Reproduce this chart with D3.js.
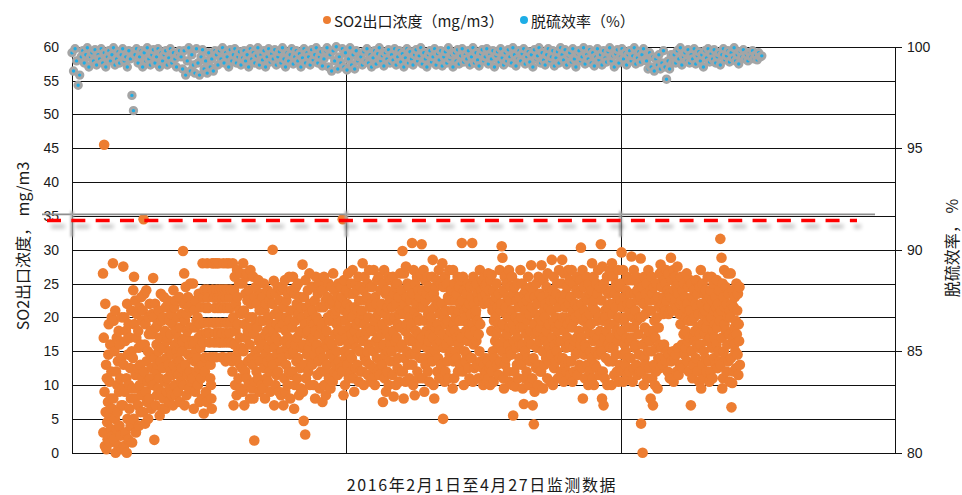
<!DOCTYPE html>
<html>
<head>
<meta charset="utf-8">
<script src="https://cdn.jsdelivr.net/npm/d3@7"></script>
<style>
  body { margin: 0; background: #fff; }
  text { font-family: "Noto Sans CJK SC", "Liberation Sans", sans-serif; fill: #1a1a1a; }
  .tick text { font-family: "Liberation Sans", sans-serif; font-size: 14px; fill: #1a1a1a; }
</style>
</head>
<body>
<script>
// SO2 outlet concentration (mg/m3) left to right
var so2Values = [
  26.5, 3, 17, 45.5, 9, 1, 22, 6, 13, 0.5, 11, 4.5, 2, 7.5, 14.5, 19, 5.5, 10.5, 1.5, 16, 8, 3.5, 12, 20, 6.5, 2.5,
  28, 8, 19.5, 2, 15, 5, 21, 0, 12, 3.5, 17, 10, 6, 13.5, 1, 18, 9, 4, 16, 11, 2.5, 14, 7, 20, 0.5, 9.5,
  7, 27.5, 13, 1, 20, 9, 16.5, 3, 18, 11, 0, 22, 5, 14.5, 2, 19, 10, 6.5, 17, 12.5, 4, 8, 21, 15, 1.5, 9.5,
  14, 24, 5, 26, 19, 8, 22.5, 11.5, 3, 17, 20.5, 9.5, 12.5, 7, 18, 15.5, 4, 21.5, 10, 13, 6, 16, 23, 8.5, 19.5, 11,
  21, 6, 34.5, 12, 23.5, 16, 4.3, 19, 9, 24, 13.5, 7.5, 10.5, 15, 5, 20, 17.5, 8, 22, 11, 14.5, 18, 6.5, 12.5, 20.5, 10,
  17.5, 25.8, 10, 20, 1.9, 14, 22, 7, 18.5, 12, 16, 8.5, 13, 19, 9.5, 15, 21, 11, 5.5, 17, 13.5, 23.5, 9, 19.5, 15.5, 6.5,
  12.5, 20, 8, 23, 15.5, 10.5, 18, 6.5, 21.5, 14, 16.5, 9, 11, 17, 22.5, 13, 7.5, 19.5, 15, 9.5, 12, 17.5, 20.5, 14.5, 8.5, 11.5,
  19, 7, 24, 13, 21.5, 10, 16, 22.5, 8.5, 18, 12, 15, 14, 20, 9, 17, 11.5, 23, 13.5, 7.5, 18.5, 15.5, 10.5, 20.5, 12.5, 16.5,
  15, 29.8, 10, 22, 26.5, 7, 19.5, 13, 24.5, 17, 8.5, 20.5, 18, 11.5, 23, 14.5, 21.5, 9.5, 16, 12, 25, 18.5, 10.5, 14, 22, 16.5,
  11, 25, 16, 6.5, 21, 13.5, 18.5, 9, 22.5, 15, 19.5, 12, 14, 20, 10, 17, 23.5, 12.5, 7.5, 19, 15.5, 21.5, 11, 17.5, 8, 13,
  28, 16.3, 22.9, 5.8, 19.2, 24.1, 12, 14.1, 21.4, 9, 17.7, 7.5, 28, 24.1, 22.9, 21.4, 19.2, 17.7, 16.3, 14.1, 11, 13, 10, 8, 6.5, 28,
  24.1, 14.1, 28, 19.2, 22.9, 16.3, 21.4, 17.7, 28, 14.1, 24.1, 19.2, 28, 22.9, 21.4, 17.7, 16.3, 28, 24.1, 22.9, 19.2, 21.4, 16.3, 17.7, 14.1, 24.1,
  17.7, 22.9, 28, 14.1, 21.4, 16.3, 24.1, 19.2, 13.5, 22.9, 17.7, 28, 24.1, 21.4, 19.2, 16.3, 14.1, 28, 22.9, 17.7, 21.4, 24.1, 19.2, 16.3, 14.1, 13.5,
  12, 28, 20, 7, 24, 16, 26, 10, 18, 22, 14, 8.5, 27, 23, 19, 15, 11, 25, 21, 17, 13, 9.5, 26.5, 20.5, 15.5, 12.5,
  25, 9, 28, 15, 21, 7, 19, 12, 23.5, 17, 26, 11, 26.5, 22.5, 18, 13.5, 10, 24, 20, 16, 8, 27, 22, 14, 18.5, 9.5,
  20, 13, 26, 8, 17.5, 1.8, 23, 10.5, 15, 24.5, 19, 12, 22, 18.5, 14, 11, 25.5, 16.5, 9, 21, 13.5, 19.5, 23.5, 15.5, 10, 17,
  16, 23, 9.5, 19.5, 25, 12.5, 21, 8, 14.5, 17.5, 22, 11, 18, 13.5, 24, 10.5, 20, 15.5, 22.5, 12, 17, 9, 19, 14, 23.5, 16.5,
  22, 30, 13, 18, 25.4, 7, 15.5, 20.5, 10, 23.5, 17, 11.5, 19, 14.5, 24.5, 12, 21, 16.5, 9, 22.5, 18.5, 13.5, 20, 8.5, 24, 15,
  14, 24.5, 19, 7, 21.5, 11, 16.5, 25.5, 9, 18, 13, 22.5, 20, 15.5, 10, 23.5, 17, 12, 26, 19.5, 14.5, 8, 21, 16, 24, 11.5,
  18.5, 12, 26, 15, 21, 6.5, 23.5, 10, 19.5, 16, 24.5, 13.5, 22, 17, 11, 25, 14, 20.5, 8.5, 17.5, 23, 12.5, 18, 9.5, 21.5, 15.5,
  20, 27.8, 9, 16, 4.7, 23, 13, 19, 2.7, 25.5, 11, 17.5, 21.5, 14.5, 18, 24, 12, 20.5, 15.5, 26.5, 10, 22, 16.5, 13.5, 19.5, 24.5,
  13, 21, 17, 24.5, 10, 19, 14.5, 22.5, 8, 18, 26, 15.5, 20, 16, 11.5, 23.5, 19.5, 13.5, 25, 17.5, 9.5, 21.5, 15, 12, 24, 18.5,
  19, 7.5, 24, 14, 21.5, 26, 10, 17, 12, 22.5, 8.5, 16, 18, 13, 23, 20, 15.5, 25, 11, 19.5, 16.5, 22, 9.5, 14.5, 24.5, 20.5,
  16, 22.5, 10.5, 26.5, 14, 19.5, 12, 24, 17.5, 20.5, 13, 21, 19, 15, 23, 11.5, 18, 25, 13.5, 21.5, 16.5, 22, 12.5, 17, 24.5, 19.5,
  23, 12, 34.5, 18, 8.5, 25.5, 15, 21, 10, 19.5, 14, 24, 17, 22, 13, 20.5, 26.5, 16, 11, 23.5, 18.5, 14.5, 21.5, 12, 25, 17.5,
  14, 20, 27, 11, 23.5, 16.5, 9, 21.5, 18, 12.5, 25, 15.5, 19, 24, 13, 21, 17, 26, 10.5, 22.5, 15, 19.5, 12, 24.5, 17.5, 20.5,
  21, 12, 28, 16.5, 24, 10, 19, 26, 14, 22.5, 17.5, 13.5, 18, 23, 15, 25, 11.5, 20, 16, 27, 13, 21.5, 18.5, 24.5, 10.5, 22,
  18, 24.5, 11, 21.5, 15, 27, 12.5, 19.5, 10, 23, 16.5, 20, 22, 14, 25.5, 17, 12, 20.5, 26, 15.5, 11.5, 18.5, 24, 13.5, 21, 17.5,
  22, 13, 19, 7.5, 25, 16, 27, 11, 20.5, 14.5, 23.5, 9, 18, 24, 12, 21.5, 15, 26, 10, 19.5, 17, 22.5, 13.5, 25.5, 16, 20,
  15, 21.5, 11.5, 26, 18, 8.3, 23.5, 13.5, 20, 16.5, 24.5, 10, 22, 17, 25, 12.5, 19, 14, 23, 10.5, 20.5, 15.5, 26.5, 18.5, 12, 21,
  24, 16, 29.8, 12, 20.5, 8, 26.5, 14, 22, 18, 10.5, 27.5, 19, 23, 15, 25, 13, 21, 17, 24.5, 11, 20, 16.5, 22.5, 14.5, 18.5,
  19, 31, 13, 23.5, 10, 27, 16.5, 21, 8.5, 25, 14.5, 18, 22, 15.5, 26, 12, 20, 17.5, 24, 11, 19.5, 23, 14, 26.5, 16, 21.5,
  30.8, 17, 24, 11, 21.5, 27, 14, 9, 19.5, 25.5, 13, 22.5, 18, 23.5, 15.5, 26, 12, 20.5, 16.5, 24.5, 10.5, 21, 17.5, 14.5, 23, 19,
  20, 26, 13.5, 28.5, 17, 10, 23.5, 8, 21.5, 15, 24.5, 18.5, 22.5, 16, 25.5, 12, 19, 14, 22, 27, 11, 18, 20.5, 16.5, 25, 13,
  13, 22, 28, 17.5, 5, 24.5, 15.5, 20, 10.5, 26, 12, 19, 21, 16, 25, 13.5, 19.5, 23, 11, 17, 27, 14.5, 22.5, 18, 24, 15,
  24, 16.5, 21, 9.5, 27, 13.5, 19, 11, 25, 18, 22.5, 15, 20, 14, 23.5, 17, 26, 12, 21, 16, 24.5, 19.5, 13, 22, 17.5, 25.5,
  17, 31, 22.5, 12, 26, 19.5, 10, 24, 15, 21, 13.5, 20, 18, 23.5, 14.5, 21.5, 16.5, 25, 12.5, 19, 22, 11, 17.5, 24.5, 14, 20.5,
  23, 14, 31, 19, 10.5, 26, 16, 22, 12.5, 24.5, 18, 20.5, 21, 16.5, 25, 13, 19.5, 23.5, 11, 17.5, 22.5, 15, 27, 19, 13.5, 24,
  24, 11, 25.5, 12.5, 23, 10, 22, 13, 26, 11.5, 24.5, 14, 23.5, 12, 25, 10.5, 22.5, 13.5, 26.5, 11, 24, 12.5, 22, 10, 25.5, 13,
  18, 26.3, 12, 21, 15, 24, 10.5, 19.5, 14, 22.5, 16.5, 20, 23, 17.5, 25, 13, 21.5, 15.5, 19, 11.5, 23.5, 16, 27, 13.5, 18.5, 21,
  22, 30.5, 15, 28.8, 19, 11, 24, 9.5, 17, 26, 13, 20.5, 21.5, 14, 25, 17.5, 23, 12, 20, 16, 27, 18.5, 10.5, 22.5, 15, 24.5,
  14.5, 21, 26, 10, 19, 5.5, 23.5, 16.5, 12, 24.5, 18, 9.8, 20, 15.5, 22.5, 13, 25, 17, 11, 21.5, 19.5, 14, 23, 16, 27, 18.5,
  20, 13, 25, 16, 9.5, 22, 18.5, 7.2, 23.5, 11, 15, 21, 24, 17.5, 12, 22.5, 14, 19.5, 26, 16.5, 10, 20.5, 23, 13.5, 18, 24.5,
  27.7, 16, 21.5, 11, 7, 24, 14, 4.2, 19, 9, 23, 17.5, 20.5, 12.5, 25, 15.5, 22, 18, 10, 26, 13, 20, 16.5, 23.5, 12, 18.5,
  12, 27.7, 19.5, 23, 15, 9.5, 25.5, 17, 21, 13, 20, 16.5, 22, 14, 24.5, 18, 11, 26.5, 16, 21.5, 13.5, 19, 23.5, 15.5, 10.5, 22.5,
  21, 14.5, 28.5, 17, 24, 10, 19.5, 26, 12.5, 22.5, 16, 18.5, 20, 13.5, 23.5, 15, 25, 18, 11, 21.5, 16.5, 27, 14, 19, 23, 12,
  16.5, 25, 11, 28.5, 20, 14, 22.5, 10.5, 26.5, 18, 13, 21.5, 23.5, 15.5, 20, 12, 24.5, 17, 19, 27, 13.5, 22, 16, 25.5, 11.5, 19.5,
  23, 13.5, 27, 18.5, 10.5, 21, 15.5, 25, 12, 19.5, 16.5, 22, 20, 14.5, 24, 17, 26, 11.5, 21.5, 15, 23.5, 18, 13, 20.5, 25.5, 16,
  30.3, 17, 22, 12.5, 27, 8, 19.5, 24.5, 14.5, 21, 11, 16, 23, 15.5, 20, 26, 13, 18.5, 22.5, 10, 25, 17.5, 12, 20.5, 15, 23.5,
  19, 24, 14, 28, 11, 21.5, 16.5, 26, 10, 22.5, 17.5, 13, 21, 15, 25, 12.5, 19.5, 23.5, 17, 27, 14.5, 20, 11.5, 24.5, 18, 16,
  30.8, 15, 22.5, 8, 27.5, 12, 19.5, 7, 25, 17, 11, 21, 20, 14, 24, 18, 26, 10, 21.5, 16, 23.5, 13.5, 19, 27, 15.5, 22,
  17, 24, 10, 28, 20.5, 13.5, 26, 15.5, 22, 11.5, 19, 23.5, 21.5, 14.5, 25, 18, 12, 23, 16.5, 27, 10.5, 20, 17.5, 24.5, 13, 22.5,
  25, 12, 29.6, 18, 21.5, 14.5, 27, 10.5, 19.5, 23, 16, 13, 20, 15, 24, 17, 26, 11.5, 22, 14, 25.5, 18.5, 12, 21, 16.5, 23.5,
  14, 22, 29, 17, 25.5, 10.5, 20, 12.5, 27, 18.5, 23.5, 15.5, 21, 16, 26, 13, 19.5, 24, 11.5, 22.5, 17.5, 25, 14.5, 20, 12, 23,
  28.7, 4.3, 20, 12, 24.5, 0, 16, 22, 10, 26, 14, 18.5, 20.5, 13, 23.5, 17, 25, 11, 21, 15, 27, 18, 12.5, 22.5, 16.5, 24,
  8, 21, 15, 26, 11, 23.5, 7, 18, 24.5, 13, 19.5, 10, 17, 22.5, 12, 25, 15.5, 20, 9.5, 23, 14, 18.5, 21.5, 16, 26.5, 12.5,
  27.8, 14, 24.5, 15.5, 22, 26, 13, 20.5, 23, 16, 25.5, 21.5, 25, 21, 13.5, 27, 22.5, 15, 24, 12, 26.5, 20.5, 14.5, 23.5, 11, 21,
  23, 28.8, 13.5, 25.5, 11, 21, 15, 27, 10.5, 24, 14, 22, 26, 22.5, 14.5, 24.5, 12, 21.5, 27.5, 15.5, 23.5, 11.5, 25, 20.5, 13, 22,
  19, 26, 13, 22.5, 16, 24, 12.5, 20.5, 17.5, 25, 14.5, 21.5, 23, 18, 15.5, 20, 26.5, 13.5, 22, 16.5, 24.5, 19.5, 12, 21, 17, 25.5,
  21, 7, 25, 15, 19.5, 11, 23, 13, 17, 24, 20, 16.5, 18, 22, 14, 25.5, 16, 21.5, 12, 23.5, 18.5, 15.5, 20.5, 10.5, 24.5, 17.5,
  16, 27, 9.5, 22, 19, 13, 25, 11, 20.5, 15, 23.5, 17.5, 21, 14, 24, 18.5, 12, 22.5, 16.5, 26, 19.5, 13.5, 21.5, 10.5, 23, 17,
  24, 12, 20, 26, 15.5, 22.5, 11, 18, 25, 14, 21, 17, 19, 23, 13, 21.5, 16, 25.5, 18.5, 12.5, 22, 15, 20.5, 24, 13.5, 19.5,
  31.6, 13, 21, 28.8, 17, 9.5, 25, 11, 23, 15, 27, 19, 21.5, 14, 24.5, 18, 12, 22, 16, 26.5, 20, 13.5, 23.5, 17.5, 10.5, 21,
  20, 26.5, 14, 6.7, 22, 10.3, 24, 17, 12, 21.5, 16, 18.5, 23, 15, 19.5, 12.5, 25, 17.5, 21, 14.5, 23.5, 11.5, 19, 16.5, 24.5, 13
];

// Desulfurization efficiency (%)
var effValues = [
  99.7, 98.8, 99.9, 99.3, 98.1, 98.6, 99.5,
  99.8, 99.2, 99.6, 99.95, 99.0, 99.5, 99.7, 99.3, 99.85, 99.1, 99.6, 99.4, 99.9, 99.2, 99.7, 99.0,
  99.5, 99.8, 99.3, 99.6, 99.95, 99.1, 99.4, 99.75, 99.2, 99.6, 99.9, 99.3, 99.5, 99.0, 99.8, 99.4,
  97.6, 96.85,
  99.6, 99.9, 99.2, 99.5, 99.8, 99.0, 99.7, 99.3, 99.95, 99.4, 99.1, 99.6, 99.85, 99.2, 99.5,
  99.9, 99.0, 99.7, 99.3, 99.6, 99.8, 99.1, 99.45, 99.9, 99.2, 99.7, 99.4, 99.0, 99.6, 99.8,
  99.5, 98.9, 99.8, 98.6, 99.3, 99.95, 98.8, 99.6, 99.1, 98.7, 99.9, 99.2,
  98.6, 99.5, 99.85, 98.9, 99.3, 98.7, 99.7, 99.0, 99.4, 98.8, 99.8,
  99.6, 99.1, 99.8, 99.4, 99.95, 99.2, 99.7, 99.5, 99.0, 99.85, 99.3, 99.6,
  99.9, 99.2, 99.5, 99.75, 99.1, 99.45, 99.8, 99.3, 99.6, 99.0, 99.9, 99.4,
  99.7, 99.2, 99.55, 99.95, 99.1, 99.6, 99.35, 99.8, 99.0, 99.5, 99.9, 99.25,
  99.65, 99.4, 99.85, 99.1, 99.5, 99.75, 99.2, 99.95, 99.4, 99.0, 99.7, 99.3,
  99.6, 99.9, 99.15, 99.5, 99.8, 99.3, 99.65, 99.0, 99.45, 99.9, 99.2, 99.7,
  99.5, 99.1, 99.85, 99.35, 99.6, 99.95, 99.2, 99.5, 99.75, 99.05, 99.4, 99.8,
  99.95, 99.0, 99.6, 98.8, 99.8, 99.3, 100.0, 98.9, 99.5, 99.2, 99.9,
  99.0, 99.7, 98.85, 99.4, 99.95, 99.1, 99.6, 98.9, 99.8, 99.3, 99.5,
  99.5, 99.1, 99.75, 99.3, 99.9, 99.2, 99.6, 99.0, 99.45, 99.8, 99.15, 99.65,
  99.95, 99.3, 99.55, 99.05, 99.7, 99.4, 99.85, 99.2, 99.6, 99.35, 99.9, 99.1,
  99.5, 99.8, 99.25, 99.65, 99.0, 99.45, 99.9, 99.2, 99.75, 99.4, 99.1, 99.6,
  99.85, 99.3, 99.55, 99.95, 99.15, 99.7, 99.4, 99.0, 99.6, 99.8, 99.25, 99.5,
  99.9, 99.1, 99.65, 99.35, 99.8, 99.05, 99.5, 99.75, 99.2, 99.95, 99.4, 99.6,
  99.0, 99.7, 99.3, 99.85, 99.15, 99.55, 99.9, 99.25, 99.6, 99.4, 99.8, 99.1,
  99.5, 99.95, 99.2, 99.7, 99.35, 99.05, 99.65, 99.85, 99.3, 99.5, 99.9, 99.15,
  99.6, 99.4, 99.8, 99.0, 99.55, 99.75, 99.25, 99.9, 99.45, 99.1, 99.7, 99.3,
  99.85, 99.5, 99.2, 99.95, 99.6, 99.05, 99.4, 99.8, 99.3, 99.65, 99.9, 99.15,
  99.5, 99.75, 99.25, 99.6, 99.0, 99.85, 99.4, 99.55, 99.95, 99.2, 99.7, 99.35,
  99.1, 99.6, 99.9, 99.3, 99.5, 99.8, 99.05, 99.45, 99.75, 99.2, 99.95, 99.6,
  99.35, 99.85, 99.1, 99.55, 99.7, 99.25, 99.9, 99.4, 99.0, 99.65, 99.8, 99.3,
  99.5, 99.95, 99.15, 99.6, 99.4, 99.85, 99.2, 99.7, 99.05, 99.5, 99.9, 99.35,
  99.6, 99.1, 99.8, 99.45, 99.25, 99.75, 99.95, 99.3, 99.55, 99.0, 99.65, 99.85,
  99.2, 99.5, 99.9, 99.4, 99.7, 99.1, 99.6, 99.8, 99.3, 99.55, 99.95, 99.15,
  99.45, 99.75, 99.25, 99.6, 99.9, 99.35,
  99.3, 98.9, 99.7, 99.0, 99.5, 98.8, 99.4, 99.1, 99.6, 98.9, 99.2, 99.8, 99.0, 98.4, 99.3, 98.9, 99.6, 99.2,
  99.6, 99.2, 99.8, 99.4, 99.95, 99.1, 99.5, 99.7, 99.3, 99.85, 99.2, 99.6,
  99.4, 99.9, 99.15, 99.55, 99.75, 99.3, 99.6, 99.0, 99.8, 99.45, 99.9, 99.25,
  99.65, 99.4, 99.85, 99.2, 99.5, 99.7, 99.1, 99.6, 99.9, 99.35, 99.55, 99.8,
  99.25, 99.7, 99.45, 99.95, 99.3, 99.6, 99.15, 99.75, 99.5, 99.85, 99.4, 99.6,
  99.3, 99.7, 99.5, 99.8, 99.4, 99.6, 99.35, 99.7, 99.5, 99.55
];

// sample index of the first reading and spacing between readings
var so2Start = 113, so2Step = 1.396;
var effStart = 0, effStep = 5.6;

var leftTicks = [0, 5, 10, 15, 20, 25, 30, 35, 40, 45, 50, 55, 60];
var rightTicks = [80, 85, 90, 95, 100];
var xGridTicks = [0, 1000, 2000, 3000];
var limitValue = 34.3;

var legendNames = ["SO2出口浓度（mg/m3）", "脱硫效率（%）"];
var colors = ["#ED7D31", "#1DADE6"];

// Set the dimensions and margins of the diagram
var W = 962, H = 495;
var margin = {top: 46.7, right: 67, bottom: 42.3, left: 72},
    width = W - margin.left - margin.right,
    height = H - margin.top - margin.bottom;

var svg = d3.select("body").append("svg")
    .attr("width", W)
    .attr("height", H);

var defs = svg.append("defs");

// shadow for the limit line
var filter = defs.append("filter")
    .attr("id", "shadow")
    .attr("filterUnits", "userSpaceOnUse")
    .attr("x", -60).attr("y", 130).attr("width", W).attr("height", 90);
filter.append("feGaussianBlur").attr("in", "SourceAlpha").attr("stdDeviation", 2.2);
filter.append("feOffset").attr("dx", 4).attr("dy", 6);
filter.append("feComponentTransfer").append("feFuncA").attr("type", "linear").attr("slope", 0.28);
var merge = filter.append("feMerge");
merge.append("feMergeNode");
merge.append("feMergeNode").attr("in", "SourceGraphic");

defs.append("filter")
    .attr("id", "soft")
    .attr("filterUnits", "userSpaceOnUse")
    .attr("x", -60).attr("y", 130).attr("width", W).attr("height", 90)
  .append("feGaussianBlur").attr("stdDeviation", 0.9);

var g = svg.append("g")
    .attr("transform", "translate(" + margin.left + "," + margin.top + ")");

var x = d3.scaleLinear().domain([0, 3000]).range([0, width]);
var yL = d3.scaleLinear().domain([0, 60]).range([height, 0]);
var yR = d3.scaleLinear().domain([80, 100]).range([height, 0]);

// horizontal gridlines
g.append("g")
    .attr("class", "grid")
    .call(d3.axisLeft(yL).tickValues(leftTicks).tickSize(-width).tickFormat(""))
    .call(function(s) { s.select(".domain").remove(); });

// vertical gridlines
g.append("g")
    .attr("class", "grid")
    .attr("transform", "translate(0," + height + ")")
    .call(d3.axisBottom(x).tickValues(xGridTicks).tickSize(-height).tickFormat(""))
    .call(function(s) { s.select(".domain").remove(); });
g.selectAll(".grid line").attr("stroke", "#111").attr("shape-rendering", "crispEdges");

// left labels
g.append("g")
    .call(d3.axisLeft(yL).tickValues(leftTicks).tickSize(0).tickPadding(13))
    .call(function(s) { s.select(".domain").remove(); });

// right axis
var right = g.append("g")
    .attr("transform", "translate(" + width + ",0)")
    .call(d3.axisRight(yR).tickValues(rightTicks).tickSize(7).tickSizeOuter(0).tickPadding(5));
right.selectAll("line, path").attr("stroke", "#111").attr("shape-rendering", "crispEdges");

// efficiency points
g.append("g").selectAll("circle")
    .data(effValues)
  .join("circle")
    .attr("cx", function(d, i) { return x(effStart + i * effStep); })
    .attr("cy", function(d) { return yR(d); })
    .attr("r", 3.2)
    .attr("fill", colors[1])
    .attr("stroke", "#A5A5A5")
    .attr("stroke-width", 3);

// SO2 points
g.append("g").selectAll("circle")
    .data(so2Values)
  .join("circle")
    .attr("cx", function(d, i) { return x(so2Start + i * so2Step); })
    .attr("cy", function(d) { return yL(d); })
    .attr("r", 5.3)
    .attr("fill", colors[0]);

// gray strip around the limit
var yLim = yL(limitValue);
g.append("line")
    .attr("x1", 42 - margin.left).attr("x2", 875 - margin.left)
    .attr("y1", yL(35) - 1.5).attr("y2", yL(35) - 1.5)
    .attr("stroke", "#8e8e8e").attr("stroke-width", 1.6);
g.selectAll(".strip")
    .data(xGridTicks.slice(0, 3))
  .join("line")
    .attr("class", "strip")
    .attr("x1", function(d) { return x(d); }).attr("x2", function(d) { return x(d); })
    .attr("y1", yL(35) - 5).attr("y2", yL(35) + 21)
    .attr("stroke", "#a8a8a8").attr("stroke-width", 3)
    .attr("filter", "url(#soft)");

// limit line (dashed red)
g.append("line")
    .attr("x1", 47 - margin.left).attr("x2", 857 - margin.left)
    .attr("y1", yLim).attr("y2", yLim)
    .attr("stroke", "#FF0000")
    .attr("stroke-width", 3.5)
    .attr("stroke-dasharray", "14 10.33")
    .attr("filter", "url(#shadow)");

// axis titles
svg.append("text")
    .attr("transform", "translate(22,246) rotate(-90)")
    .attr("text-anchor", "middle")
    .attr("dominant-baseline", "central")
    .style("font-size", "16px")
    .text("SO2出口浓度， mg/m3");

svg.append("text")
    .attr("transform", "translate(951,248) rotate(-90)")
    .attr("text-anchor", "middle")
    .attr("dominant-baseline", "central")
    .style("font-size", "16px")
    .text("脱硫效率， %");

svg.append("text")
    .attr("x", 482).attr("y", 484)
    .attr("text-anchor", "middle")
    .attr("dominant-baseline", "central")
    .style("font-size", "16px")
    .style("letter-spacing", "1.6px")
    .text("2016年2月1日至4月27日监测数据");

// legend
var legendX = [327, 524];
legendNames.forEach(function(name, i) {
  svg.append("circle")
      .attr("cx", legendX[i]).attr("cy", 20).attr("r", 4)
      .attr("fill", colors[i]);
  svg.append("text")
      .attr("x", legendX[i] + 7).attr("y", 20)
      .attr("dominant-baseline", "central")
      .style("font-size", "15px")
      .text(name);
});
</script>
</body>
</html>
